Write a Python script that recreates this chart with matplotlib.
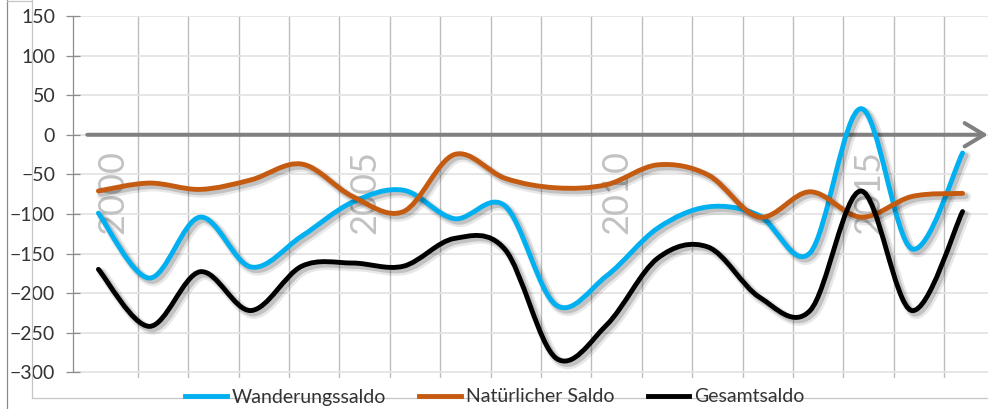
import numpy as np
import matplotlib
matplotlib.use("Agg")
import matplotlib.pyplot as plt
import matplotlib.patheffects as pe
from matplotlib.path import Path
from matplotlib.patches import PathPatch
from matplotlib.lines import Line2D

plt.rcParams["font.family"] = ["Lato", "DejaVu Sans"]

# data
years = list(range(2000, 2018))
wanderung = [-99, -181, -104, -167, -128, -85, -70, -106, -90, -215,
             -178, -118, -91, -102, -149, 33, -144, -23]
natuerlich = [-71, -61, -69, -57, -37, -78, -97, -25, -55, -67,
              -63, -38, -51, -104, -72, -104, -78, -74]
gesamt = [-170, -242, -173, -222, -166, -162, -166, -131, -145, -282,
          -240, -156, -142, -205, -222, -71, -222, -97]

series_names = ["Wanderungssaldo", "Natürlicher Saldo", "Gesamtsaldo"]
series_colors = ["#00B0F0", "#C55A11", "#000000"]

year_labels = ["2000", "2005", "2010", "2015"]
year_label_pos = [0, 5, 10, 15]

y_ticks = list(range(-300, 151, 50))


def smooth_path(xs, ys):
    # Catmull-Rom style bezier, close to Excel's "smoothed line"
    pts = np.column_stack([xs, ys]).astype(float)
    n = len(pts)
    verts = [pts[0]]
    codes = [Path.MOVETO]
    for i in range(n - 1):
        p0 = pts[i - 1] if i > 0 else pts[i]
        p1 = pts[i]
        p2 = pts[i + 1]
        p3 = pts[i + 2] if i + 2 < n else pts[i + 1]
        verts += [p1 + (p2 - p0) / 6.0, p2 - (p3 - p1) / 6.0, p2]
        codes += [Path.CURVE4] * 3
    return Path(verts, codes)


W, H = 988, 409
fig = plt.figure(figsize=(W / 100, H / 100), dpi=100)

left, right, top, bottom = 73, 988, 16, 378
ax = fig.add_axes([left / W, 1 - bottom / H, (right - left) / W, (bottom - top) / H])

ax.set_ylim(-307.2, 150)
ax.set_xlim(-0.784, 17.371)

for s in ["top", "right", "bottom"]:
    ax.spines[s].set_visible(False)
ax.spines["left"].set_bounds(-300, 150)
ax.spines["left"].set_color("#8c8c8c")
ax.spines["left"].set_linewidth(0.9)

ax.set_yticks(y_ticks)
ax.tick_params(axis="y", direction="inout", length=9.6, width=0.9,
               color="#8c8c8c", labelsize=14, labelcolor="#333333", pad=8)

ax.set_xticks(np.arange(0.5, 17, 1))
ax.tick_params(axis="x", length=0, labelbottom=False)

ax.grid(axis="y", color="#e4e4e4", linewidth=1.3, zorder=0)
ax.grid(axis="x", color="#bdbdbd", linewidth=1.0, zorder=0)
ax.set_axisbelow(True)

# big grey year labels behind the lines
for pos, lab in zip(year_label_pos, year_labels):
    ax.text(pos, -19, lab, rotation=90, ha="center", va="top",
            fontsize=26, color="#c2c2c2", zorder=1)

# zero axis with open arrow
ax.annotate("", xy=(1.0, 0), xycoords=("axes fraction", "data"),
            xytext=(-0.5, 0), textcoords="data",
            arrowprops=dict(arrowstyle="->,head_length=0.7,head_width=0.42",
                            color="#808080", lw=2.9, mutation_scale=20,
                            shrinkA=0, shrinkB=0),
            zorder=2)

# series on the category axis of the lines
ax2 = ax.twiny()
ax2.set_xlim(1999.5, 2017.5)
ax2.set_ylim(ax.get_ylim())
ax2.axis("off")

shadow = [pe.SimpleLineShadow(offset=(2.5, -2.5), shadow_color="#000000",
                              alpha=0.09, linewidth=7),
          pe.SimpleLineShadow(offset=(2.0, -2.0), shadow_color="#000000",
                              alpha=0.16, linewidth=4.5),
          pe.Normal()]

for vals, color in zip([wanderung, natuerlich, gesamt], series_colors):
    patch = PathPatch(smooth_path(years, vals), fill=False, edgecolor=color,
                      linewidth=3.5, capstyle="round", joinstyle="round",
                      path_effects=shadow, zorder=3)
    ax2.add_patch(patch)

# frame lines of the screenshot
fig.add_artist(Line2D([7 / W, 7 / W], [0, 1], transform=fig.transFigure,
                      color="#8a8a8a", linewidth=0.9))
fig.add_artist(Line2D([32 / W, 32 / W], [1 - 398 / H, 1], transform=fig.transFigure,
                      color="#c6c6c6", linewidth=0.9))
fig.add_artist(Line2D([32 / W, 1], [1 - 398 / H, 1 - 398 / H], transform=fig.transFigure,
                      color="#c6c6c6", linewidth=0.9))
fig.add_artist(Line2D([7 / W, 32 / W], [1 - 0.5 / H, 1 - 0.5 / H], transform=fig.transFigure,
                      color="#c6c6c6", linewidth=0.9))

handles = [Line2D([], [], color=c, linewidth=3.5) for c in series_colors]
fig.legend(handles, series_names, loc="center", bbox_to_anchor=(495 / W, 1 - 397 / H),
           ncol=3, frameon=False, fontsize=14, handlelength=2.15,
           handletextpad=0.25, columnspacing=1.7, labelcolor="#333333",
           borderpad=0, borderaxespad=0)

fig.savefig("out.png", dpi=100)
